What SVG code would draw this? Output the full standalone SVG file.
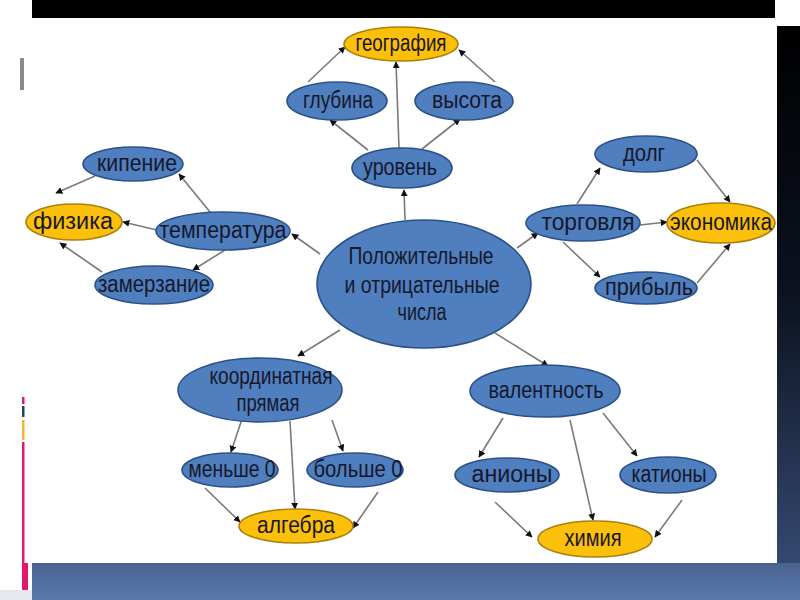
<svg xmlns="http://www.w3.org/2000/svg" width="800" height="600" viewBox="0 0 800 600">
<defs>
<linearGradient id="band" x1="0" y1="0" x2="0" y2="1">
<stop offset="0" stop-color="#4a6291"/>
<stop offset="1" stop-color="#5b7aad"/>
</linearGradient>
<linearGradient id="rstrip" x1="0" y1="0" x2="0" y2="1">
<stop offset="0" stop-color="#000000"/>
<stop offset="0.5" stop-color="#0c1220"/>
<stop offset="1" stop-color="#34496f"/>
</linearGradient>
<marker id="ah" viewBox="0 0 10 10" refX="9" refY="5" markerWidth="7" markerHeight="7" markerUnits="userSpaceOnUse" orient="auto">
<path d="M0,0 L10,5 L0,10 z" fill="#111"/>
</marker>
<style>
.b{fill:#4f7fbf;stroke:#2c5189;stroke-width:1.6}
.y{fill:#fcbf0a;stroke:#a8820c;stroke-width:1.6}
.t{font-family:"Liberation Sans",Arial,sans-serif;font-size:23px;fill:#17172b;text-anchor:middle}
.c line{stroke:#7a7a7a;stroke-width:1.6;marker-end:url(#ah)}
</style>
</defs>
<rect width="800" height="600" fill="#ffffff"/>
<rect x="32" y="0" width="743" height="18" fill="#000"/>
<rect x="777" y="26" width="23" height="537" fill="url(#rstrip)"/>
<rect x="20" y="58" width="4" height="32" fill="#8a8a8a"/>
<rect x="22" y="397" width="2.5" height="7" fill="#e0186f"/>
<rect x="22" y="406" width="2.5" height="11" fill="#2d3f5f"/>
<rect x="22" y="420" width="2.5" height="20" fill="#f5b335"/>
<rect x="22" y="442" width="2.5" height="148" fill="#e0186f"/>
<rect x="22" y="563" width="6" height="27" fill="#e0186f"/>
<rect x="0" y="590" width="32" height="10" fill="#e6e8ee"/>
<rect x="32" y="563" width="768" height="37" fill="url(#band)"/>

<g id="connectors" class="c">
<line x1="308" y1="82" x2="345" y2="47"/>
<line x1="368" y1="150" x2="330" y2="120"/>
<line x1="399" y1="148" x2="396" y2="62"/>
<line x1="422" y1="149" x2="460" y2="119"/>
<line x1="495" y1="82" x2="459" y2="50"/>
<line x1="405" y1="220" x2="404" y2="190"/>
<line x1="95" y1="176" x2="56" y2="193"/>
<line x1="210" y1="212" x2="179" y2="174"/>
<line x1="157" y1="230" x2="123" y2="222"/>
<line x1="225" y1="250" x2="193" y2="270"/>
<line x1="102" y1="272" x2="60" y2="243"/>
<line x1="320" y1="254" x2="292" y2="234"/>
<line x1="517" y1="248" x2="538" y2="233"/>
<line x1="577" y1="204" x2="600" y2="168"/>
<line x1="697" y1="160" x2="730" y2="202"/>
<line x1="640" y1="225" x2="667" y2="222"/>
<line x1="563" y1="242" x2="600" y2="277"/>
<line x1="697" y1="283" x2="730" y2="244"/>
<line x1="340" y1="330" x2="298" y2="356"/>
<line x1="242" y1="419" x2="231" y2="452"/>
<line x1="290" y1="421" x2="295" y2="509"/>
<line x1="332" y1="420" x2="343" y2="451"/>
<line x1="205" y1="488" x2="240" y2="522"/>
<line x1="378" y1="492" x2="353" y2="528"/>
<line x1="495" y1="333" x2="548" y2="366"/>
<line x1="503" y1="418" x2="479" y2="457"/>
<line x1="570" y1="420" x2="593" y2="520"/>
<line x1="603" y1="413" x2="637" y2="456"/>
<line x1="495" y1="502" x2="532" y2="537"/>
<line x1="682" y1="500" x2="655" y2="537"/>
</g>

<g id="geografiya"><ellipse class="y" cx="401" cy="44" rx="57" ry="17"/><text class="t" x="401" y="51" textLength="91" lengthAdjust="spacingAndGlyphs">география</text></g>
<g id="glubina"><ellipse class="b" cx="337" cy="101" rx="50" ry="19"/><text class="t" x="338" y="108" textLength="70" lengthAdjust="spacingAndGlyphs">глубина</text></g>
<g id="vysota"><ellipse class="b" cx="464" cy="101" rx="49" ry="19"/><text class="t" x="467" y="108" textLength="70" lengthAdjust="spacingAndGlyphs">высота</text></g>
<g id="uroven"><ellipse class="b" cx="402" cy="168" rx="50" ry="20"/><text class="t" x="400" y="175" textLength="74" lengthAdjust="spacingAndGlyphs">уровень</text></g>
<g id="kipenie"><ellipse class="b" cx="133" cy="164" rx="50" ry="17"/><text class="t" x="137" y="171" textLength="80" lengthAdjust="spacingAndGlyphs">кипение</text></g>
<g id="fizika"><ellipse class="y" cx="74" cy="222" rx="48" ry="18"/><text class="t" x="73" y="229" textLength="80" lengthAdjust="spacingAndGlyphs">физика</text></g>
<g id="temperatura"><ellipse class="b" cx="223" cy="231" rx="67" ry="19"/><text class="t" x="223" y="238" textLength="127" lengthAdjust="spacingAndGlyphs">температура</text></g>
<g id="zamerzanie"><ellipse class="b" cx="154" cy="285" rx="59" ry="19"/><text class="t" x="154" y="292" textLength="112" lengthAdjust="spacingAndGlyphs">замерзание</text></g>
<g id="center"><ellipse class="b" cx="424" cy="284" rx="107" ry="64"/>
<text class="t" x="421" y="264" textLength="145" lengthAdjust="spacingAndGlyphs">Положительные</text>
<text class="t" x="422" y="293" textLength="155" lengthAdjust="spacingAndGlyphs">и отрицательные</text>
<text class="t" x="422" y="320" textLength="49" lengthAdjust="spacingAndGlyphs">числа</text></g>
<g id="dolg"><ellipse class="b" cx="646" cy="154" rx="51" ry="18"/><text class="t" x="644" y="161" textLength="42" lengthAdjust="spacingAndGlyphs">долг</text></g>
<g id="torgovlya"><ellipse class="b" cx="583" cy="223" rx="57" ry="18"/><text class="t" x="588" y="230" textLength="93" lengthAdjust="spacingAndGlyphs">торговля</text></g>
<g id="ekonomika"><ellipse class="y" cx="721" cy="223" rx="54" ry="20"/><text class="t" x="721" y="230" textLength="102" lengthAdjust="spacingAndGlyphs">экономика</text></g>
<g id="pribyl"><ellipse class="b" cx="646" cy="288" rx="51" ry="16"/><text class="t" x="649" y="295" textLength="88" lengthAdjust="spacingAndGlyphs">прибыль</text></g>
<g id="koord"><ellipse class="b" cx="260" cy="390" rx="82" ry="32"/>
<text class="t" x="271" y="384" textLength="123" lengthAdjust="spacingAndGlyphs">координатная</text>
<text class="t" x="268" y="411" textLength="63" lengthAdjust="spacingAndGlyphs">прямая</text></g>
<g id="menshe"><ellipse class="b" cx="230" cy="470" rx="48" ry="17"/><text class="t" x="232" y="477" textLength="87" lengthAdjust="spacingAndGlyphs">меньше 0</text></g>
<g id="bolshe"><ellipse class="b" cx="355" cy="470" rx="48" ry="17"/><text class="t" x="358" y="477" textLength="89" lengthAdjust="spacingAndGlyphs">больше 0</text></g>
<g id="algebra"><ellipse class="y" cx="296" cy="526" rx="57" ry="17"/><text class="t" x="296" y="533" textLength="78" lengthAdjust="spacingAndGlyphs">алгебра</text></g>
<g id="valentnost"><ellipse class="b" cx="545" cy="391" rx="75" ry="26"/><text class="t" x="546" y="398" textLength="115" lengthAdjust="spacingAndGlyphs">валентность</text></g>
<g id="aniony"><ellipse class="b" cx="507" cy="475" rx="52" ry="17"/><text class="t" x="512" y="482" textLength="81" lengthAdjust="spacingAndGlyphs">анионы</text></g>
<g id="kationy"><ellipse class="b" cx="668" cy="475" rx="48" ry="18"/><text class="t" x="669" y="482" textLength="75" lengthAdjust="spacingAndGlyphs">катионы</text></g>
<g id="khimiya"><ellipse class="y" cx="595" cy="539" rx="57" ry="18"/><text class="t" x="593" y="546" textLength="57" lengthAdjust="spacingAndGlyphs">химия</text></g>
</svg>
